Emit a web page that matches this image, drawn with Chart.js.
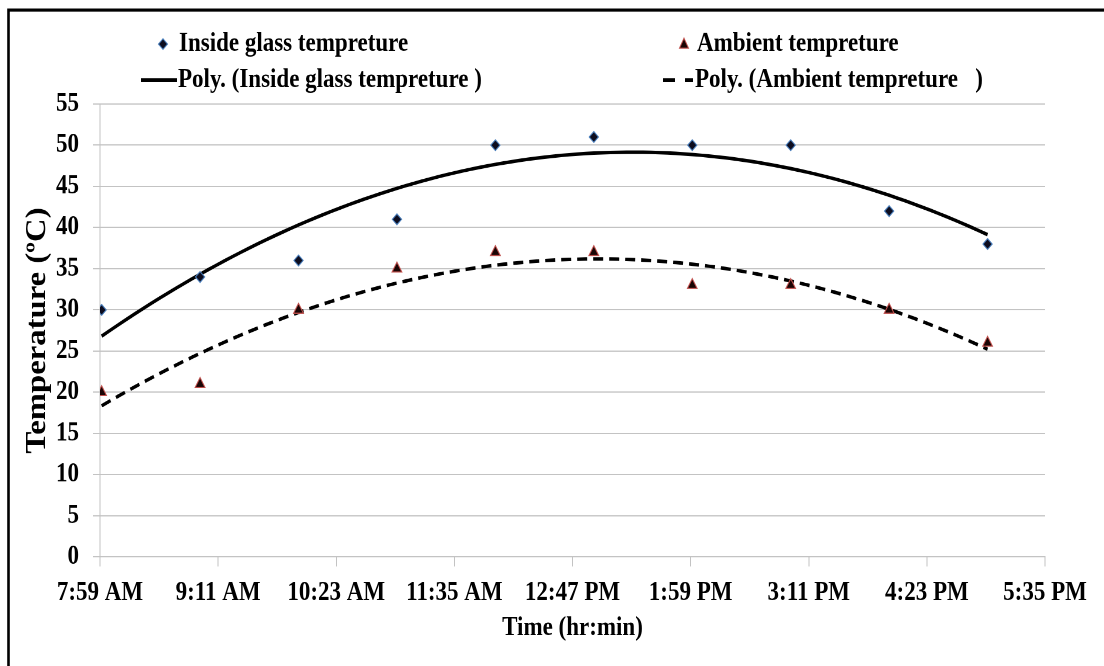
<!DOCTYPE html>
<html>
<head>
<meta charset="utf-8">
<script src="https://cdn.jsdelivr.net/npm/chart.js@4.4.1/dist/chart.umd.min.js"></script>
<style>
  html, body { margin: 0; padding: 0; background: #fff; overflow: hidden; }
  #c { display: block; }
</style>
</head>
<body>
<!-- laid out 570px tall, shown 666px tall -->
<canvas id="c" width="1104" height="570" style="width:1104px;height:666px"></canvas>
<script>
// Sampling times (minutes after midnight)
const times = [480, 540, 600, 660, 720, 780, 840, 900, 960, 1020];
// Measured temperatures (°C)
const insideTemp  = [30, 34, 36, 41, 50, 51, 50, 50, 42, 38];
const ambientTemp = [20, 21, 30, 35, 37, 37, 33, 33, 30, 26];
// Axis tick labels
const timeTickLabels = ['7:59 AM', '9:11 AM', '10:23 AM', '11:35 AM', '12:47 PM',
                        '1:59 PM', '3:11 PM', '4:23 PM', '5:35 PM'];
const seriesNames = ['Inside glass tempreture', 'Ambient tempreture',
                     'Poly. (Inside glass tempreture )', 'Poly. (Ambient tempreture   )'];

const FONT = '"Liberation Serif", "Times New Roman", serif';

// Second-order least-squares trendline, sampled along the measured time span
function polyTrend(xs, ys, step) {
  const n = xs.length;
  const x0 = xs.reduce((a, b) => a + b, 0) / n;
  let s = [0, 0, 0, 0, 0], t = [0, 0, 0];
  xs.forEach((x, i) => {
    const u = x - x0;
    for (let k = 0; k <= 4; k++) s[k] += Math.pow(u, k);
    for (let k = 0; k <= 2; k++) t[k] += Math.pow(u, k) * ys[i];
  });
  const M = [[s[0], s[1], s[2], t[0]], [s[1], s[2], s[3], t[1]], [s[2], s[3], s[4], t[2]]];
  for (let c = 0; c < 3; c++) {
    for (let r = c + 1; r < 3; r++) {
      const f = M[r][c] / M[c][c];
      for (let k = c; k < 4; k++) M[r][k] -= f * M[c][k];
    }
  }
  const coef = [0, 0, 0];
  for (let r = 2; r >= 0; r--) {
    let v = M[r][3];
    for (let k = r + 1; k < 3; k++) v -= M[r][k] * coef[k];
    coef[r] = v / M[r][r];
  }
  const pts = [];
  for (let x = xs[0]; x <= xs[n - 1] + 1e-9; x += step) {
    const u = x - x0;
    pts.push({ x, y: coef[0] + coef[1] * u + coef[2] * u * u });
  }
  return pts;
}

const toPoints = (ys) => times.map((t, i) => ({ x: t, y: ys[i] }));

// Frame along the top and left edges
const framePlugin = {
  id: 'frame',
  beforeDraw(chart) {
    const ctx = chart.ctx;
    ctx.save();
    ctx.fillStyle = '#fff';
    ctx.fillRect(0, 0, chart.width, chart.height);
    ctx.strokeStyle = '#000';
    ctx.lineWidth = 2.6;
    ctx.beginPath();
    ctx.moveTo(8.5, chart.height);
    ctx.lineTo(8.5, 8.6);
    ctx.lineTo(chart.width, 8.6);
    ctx.stroke();
    ctx.restore();
  }
};

// Two-row legend above the plot
const legendPlugin = {
  id: 'twoRowLegend',
  afterDraw(chart) {
    const ctx = chart.ctx;
    const row1 = 37.7, row2 = 68.5;
    ctx.save();
    ctx.font = 'bold 23px ' + FONT;
    ctx.fillStyle = '#000';
    ctx.textBaseline = 'middle';
    ctx.textAlign = 'left';

    // diamond marker
    const dx = 163;
    ctx.beginPath();
    ctx.moveTo(dx - 4.5, row1); ctx.lineTo(dx, row1 - 4.5);
    ctx.lineTo(dx + 4.5, row1); ctx.lineTo(dx, row1 + 4.5); ctx.closePath();
    ctx.fillStyle = '#0d0d1f'; ctx.fill();
    ctx.strokeStyle = '#4a7ebb'; ctx.lineWidth = 1; ctx.stroke();
    ctx.fillStyle = '#000';
    ctx.fillText(seriesNames[0], 179, row1);

    // triangle marker
    const tx = 684;
    ctx.beginPath();
    ctx.moveTo(tx, row1 - 5); ctx.lineTo(tx + 4.5, row1 + 3.5); ctx.lineTo(tx - 4.5, row1 + 3.5);
    ctx.closePath();
    ctx.fillStyle = '#1a0505'; ctx.fill();
    ctx.strokeStyle = '#c0504d'; ctx.lineWidth = 1; ctx.stroke();
    ctx.fillStyle = '#000';
    ctx.fillText(seriesNames[1], 697, row1);

    // solid trendline sample
    ctx.strokeStyle = '#000';
    ctx.lineWidth = 3;
    ctx.beginPath(); ctx.moveTo(141, row2); ctx.lineTo(177, row2); ctx.stroke();
    ctx.fillText(seriesNames[2], 178, row2);

    // dashed trendline sample
    ctx.beginPath(); ctx.moveTo(663, row2); ctx.lineTo(675, row2); ctx.stroke();
    ctx.beginPath(); ctx.moveTo(685, row2); ctx.lineTo(693, row2); ctx.stroke();
    ctx.fillText(seriesNames[3], 695, row2);
    ctx.restore();
  }
};

function build() {
  Chart.defaults.font.family = FONT;
  Chart.defaults.color = '#000';
  const gridGray = '#c3c3c3';

  new Chart(document.getElementById('c'), {
    type: 'scatter',
    data: {
      datasets: [
        {
          label: seriesNames[0],
          data: toPoints(insideTemp),
          pointStyle: 'rectRot',
          pointRadius: 4.6,
          pointBackgroundColor: '#0d0d1f',
          pointBorderColor: '#4a7ebb',
          pointBorderWidth: 1,
          order: 1
        },
        {
          label: seriesNames[1],
          data: toPoints(ambientTemp),
          pointStyle: 'triangle',
          pointRadius: 5.6,
          pointBackgroundColor: '#1a0505',
          pointBorderColor: '#c0504d',
          pointBorderWidth: 1,
          order: 1
        },
        {
          label: seriesNames[2],
          data: polyTrend(times, insideTemp, 5),
          showLine: true,
          pointRadius: 0,
          borderColor: '#000',
          borderWidth: 3,
          tension: 0,
          order: 2
        },
        {
          label: seriesNames[3],
          data: polyTrend(times, ambientTemp, 5),
          showLine: true,
          pointRadius: 0,
          borderColor: '#000',
          borderWidth: 3,
          borderDash: [10, 6],
          tension: 0,
          order: 2
        }
      ]
    },
    options: {
      responsive: false,
      animation: false,
      devicePixelRatio: 2,
      layout: { padding: { top: 89, right: 59, left: 0, bottom: 0 } },
      plugins: { legend: { display: false }, tooltip: { enabled: false } },
      scales: {
        x: {
          type: 'linear',
          min: 479,
          max: 1055,
          afterFit(scale) { scale.height = 93.3; },
          ticks: {
            stepSize: 72,
            padding: 9,
            maxRotation: 0,
            autoSkip: false,
            font: { size: 23, weight: 'bold' },
            callback: (v, i) => timeTickLabels[i]
          },
          grid: { drawOnChartArea: false, drawTicks: true, tickLength: 8, color: gridGray },
          border: { color: gridGray },
          title: {
            display: true,
            text: 'Time (hr:min)',
            font: { size: 23, weight: 'bold' },
            padding: { top: 0, bottom: 18.7 }
          }
        },
        y: {
          min: 0,
          max: 55,
          afterFit(scale) { scale.width = 100; },
          ticks: {
            stepSize: 5,
            padding: 14,
            font: { size: 23, weight: 'bold' }
          },
          grid: { color: gridGray, tickLength: 7 },
          border: { color: gridGray },
          title: {
            display: true,
            text: 'Temperature (ºC)',
            font: { size: 28, weight: 'bold' },
            padding: { top: 21, bottom: 0 }
          }
        }
      }
    },
    plugins: [framePlugin, legendPlugin]
  });
}

if (document.fonts && document.fonts.load) {
  Promise.all([
    document.fonts.load('bold 23px "Liberation Serif"'),
    document.fonts.load('bold 28px "Liberation Serif"')
  ]).then(build, build);
} else {
  build();
}
</script>
</body>
</html>
